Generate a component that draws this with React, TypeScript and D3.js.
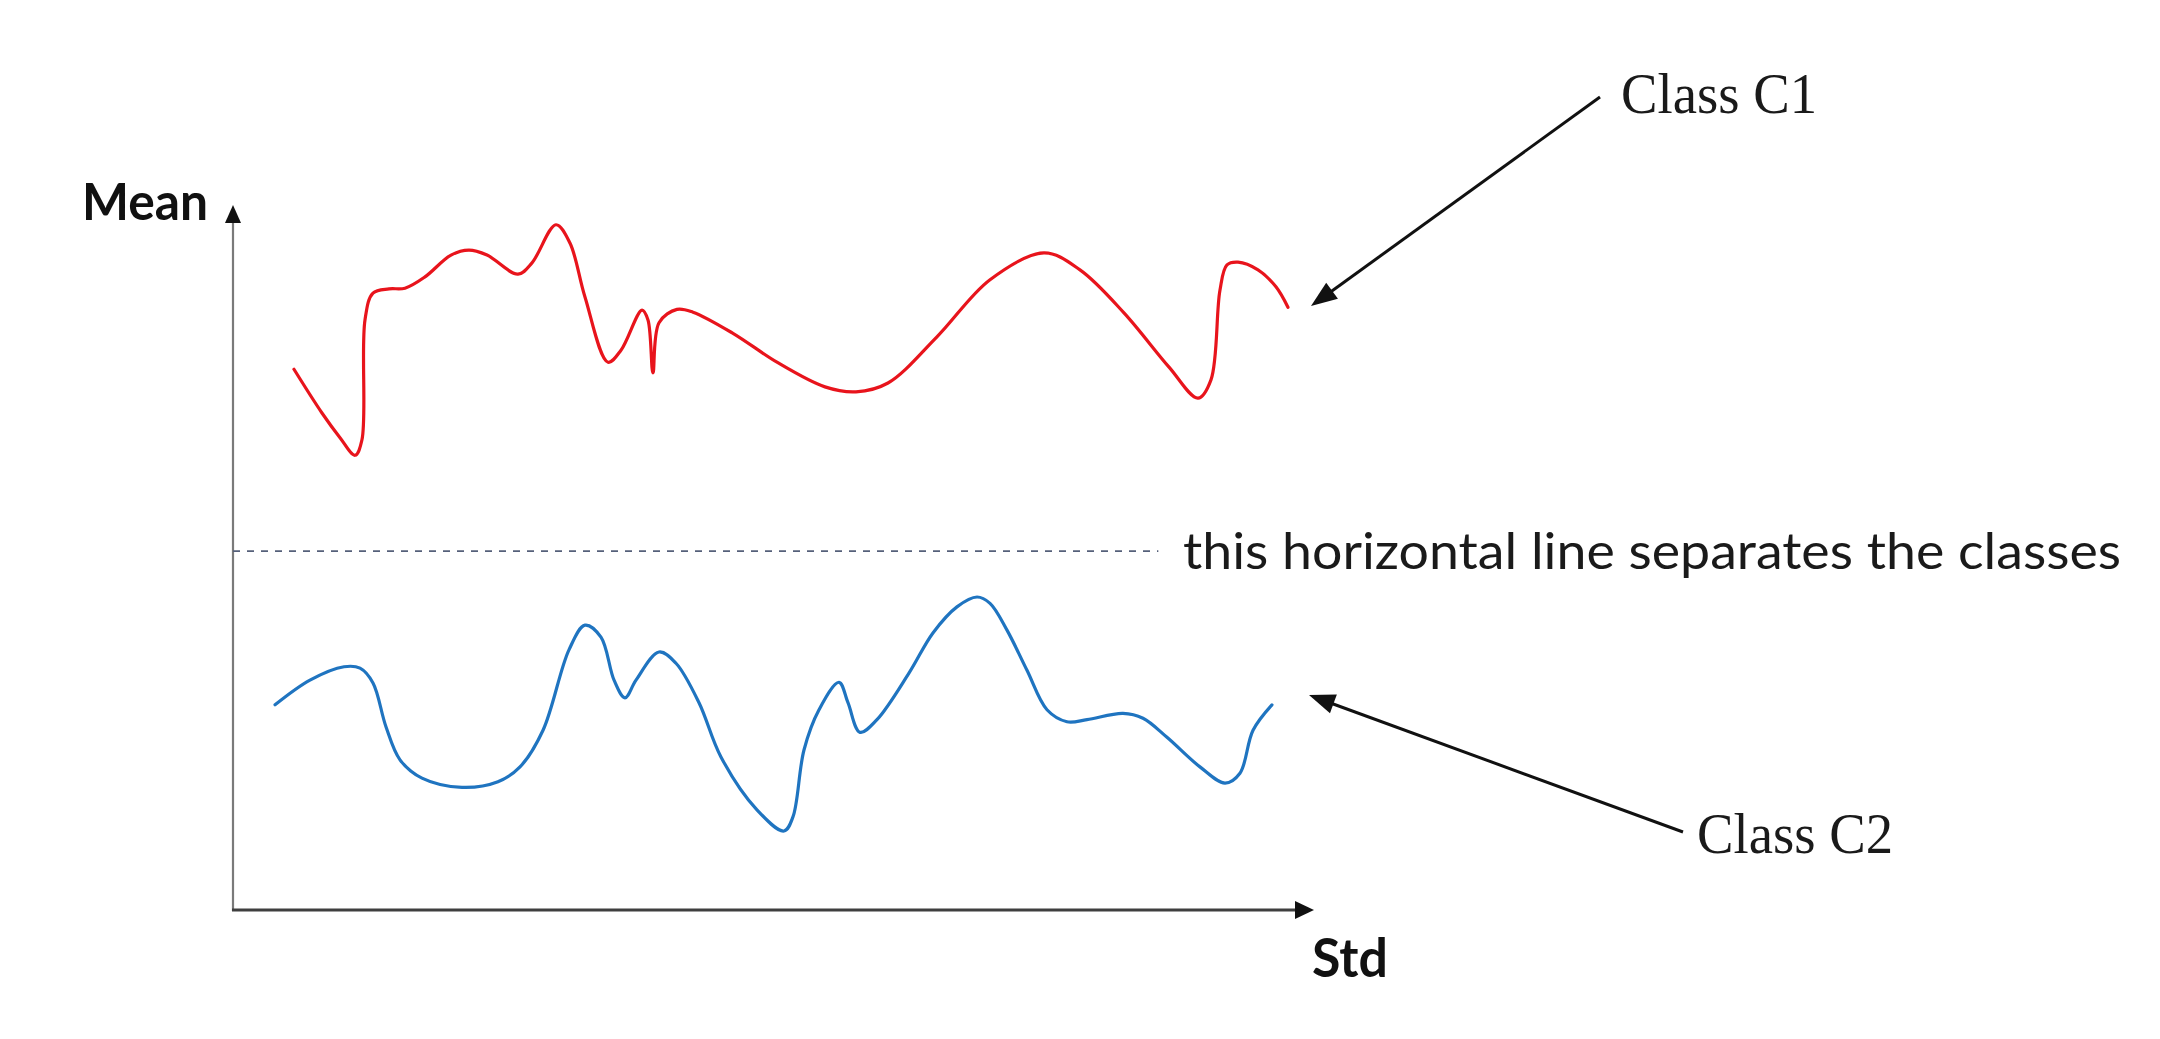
import React from "react";
import * as d3 from "d3";

// ---- data (arbitrary units: Std 0..100, Mean 0..100) ----
const c1Std = [5.64, 8.23, 9.9, 11.29, 11.93, 12.21, 12.95, 14.43, 15.91, 17.76, 20.17, 21.83, 23.5, 26.36, 27.66, 29.88, 31.17, 32.56, 34.69, 35.89, 37.84, 38.39, 38.85, 39.41, 41.07, 42.55, 46.25, 50.32, 54.76, 57.63, 60.59, 65.12, 70.03, 75.02, 78.35, 82.42, 86.59, 89.27, 90.47, 91.3, 91.95, 92.97, 94.82, 96.48, 97.59];
const c1Mean = [76.7, 70.5, 67.0, 64.5, 66.7, 83.7, 87.5, 88.1, 88.2, 89.8, 92.9, 93.6, 92.9, 90.2, 91.8, 97.2, 94.6, 86.95, 77.7, 79.4, 85.1, 83.7, 76.2, 83.3, 85.2, 84.8, 81.8, 77.7, 74.2, 73.5, 74.75, 81.3, 89.4, 93.2, 90.8, 84.7, 77.0, 72.6, 75.2, 87.9, 91.5, 91.9, 90.8, 88.4, 85.5];

const c2Std = [3.89, 7.12, 10.27, 11.75, 12.95, 14.15, 15.45, 17.48, 21.18, 24.51, 26.55, 28.68, 31.08, 32.56, 34.04, 35.25, 36.26, 37.28, 39.41, 40.98, 43.11, 45.14, 48.47, 50.97, 51.8, 52.82, 54.21, 56.06, 56.89, 58.0, 59.57, 62.53, 64.75, 66.97, 68.83, 70.03, 71.6, 73.45, 75.3, 77.15, 79.0, 82.33, 84.18, 86.4, 89.45, 91.77, 93.15, 94.36, 96.11];
const c2Mean = [29.1, 32.6, 34.5, 34.3, 32.2, 26.0, 21.3, 18.7, 17.4, 18.2, 20.3, 25.5, 36.9, 40.4, 38.7, 32.6, 30.1, 32.6, 36.6, 35.0, 29.4, 21.7, 14.2, 11.2, 13.2, 22.7, 28.4, 32.3, 29.4, 25.2, 27.0, 33.6, 39.3, 43.0, 44.4, 43.5, 39.7, 34.0, 28.4, 26.7, 27.0, 27.9, 27.2, 24.5, 20.3, 18.0, 19.4, 25.5, 29.1];

const separatorMean = 50.9;
const separatorEnd = 85.6;

const labels = {
  yAxis: "Mean",
  xAxis: "Std",
  c1: "Class C1",
  c2: "Class C2",
  sep: "this horizontal line separates the classes",
};

// ---- layout ----
const W = 2160;
const H = 1039;
const X0 = 233;
const X1 = 1314;
const Y0 = 910;
const Y1 = 205;

export default function App() {
  const x = d3.scaleLinear().domain([0, 100]).range([X0, X1]);
  const y = d3.scaleLinear().domain([0, 100]).range([Y0, Y1]);

  const line = d3
    .line<[number, number]>()
    .x((d) => x(d[0]))
    .y((d) => y(d[1]))
    .curve(d3.curveCatmullRom.alpha(0.5));

  const c1 = line(c1Std.map((s, i) => [s, c1Mean[i]] as [number, number])) || "";
  const c2 = line(c2Std.map((s, i) => [s, c2Mean[i]] as [number, number])) || "";

  const arrowHead = (x1: number, y1: number, x2: number, y2: number, len: number, half: number) => {
    const a = Math.atan2(y2 - y1, x2 - x1);
    const bx = x2 - len * Math.cos(a);
    const by = y2 - len * Math.sin(a);
    const px = -Math.sin(a) * half;
    const py = Math.cos(a) * half;
    return `M${x2},${y2}L${bx + px},${by + py}L${bx - px},${by - py}Z`;
  };

  const sans = "Lato, 'Open Sans', 'Noto Sans', sans-serif";
  const serif = "'Liberation Serif', 'DejaVu Serif', serif";

  return (
    <svg
      width={W}
      height={H}
      style={{ position: "absolute", left: 0, top: 0, background: "#fff" }}
    >
      <rect x={0} y={0} width={W} height={H} fill="#fff" />

      {/* axes */}
      <line x1={X0} y1={Y0 + 1} x2={X0} y2={Y1 + 14} stroke="#7a7a7a" strokeWidth={2.2} />
      <path d={arrowHead(X0, Y0, X0, Y1, 18, 8)} fill="#111" />
      <line x1={X0 - 1} y1={Y0} x2={X1 - 14} y2={Y0} stroke="#3f3f3f" strokeWidth={3.2} />
      <path d={arrowHead(X0, Y0, X1, Y0, 19, 9)} fill="#111" />

      <text x={208} y={220} textAnchor="end" fontFamily={sans} fontWeight={700} fontSize={52} fill="#111" textLength={126} lengthAdjust="spacingAndGlyphs">
        {labels.yAxis}
      </text>
      <text x={1312} y={977} fontFamily={sans} fontWeight={700} fontSize={54} fill="#111" textLength={76} lengthAdjust="spacingAndGlyphs">
        {labels.xAxis}
      </text>

      {/* separator */}
      <line
        x1={x(0)}
        x2={x(separatorEnd)}
        y1={y(separatorMean)}
        y2={y(separatorMean)}
        stroke="#55607a"
        strokeWidth={1.8}
        strokeDasharray="7,7"
      />
      <text x={1183} y={569} fontFamily={sans} fontSize={50} fill="#1a1a1a" textLength={938} lengthAdjust="spacingAndGlyphs">
        {labels.sep}
      </text>

      {/* series */}
      <path d={c1} fill="none" stroke="#e8141c" strokeWidth={3.2} strokeLinecap="round" strokeLinejoin="round" />
      <path d={c2} fill="none" stroke="#1f74c0" strokeWidth={3.2} strokeLinecap="round" strokeLinejoin="round" />

      {/* annotations */}
      <line x1={1600} y1={97} x2={1325} y2={296} stroke="#111" strokeWidth={3} />
      <path d={arrowHead(1600, 97, 1311, 306, 26, 10)} fill="#111" />
      <text x={1621} y={113} fontFamily={serif} fontSize={56} fill="#1a1a1a" textLength={196} lengthAdjust="spacingAndGlyphs">
        {labels.c1}
      </text>

      <line x1={1683} y1={832} x2={1325} y2={701} stroke="#111" strokeWidth={3} />
      <path d={arrowHead(1683, 832, 1309, 695, 26, 10)} fill="#111" />
      <text x={1697} y={853} fontFamily={serif} fontSize={56} fill="#1a1a1a" textLength={196} lengthAdjust="spacingAndGlyphs">
        {labels.c2}
      </text>
    </svg>
  );
}
